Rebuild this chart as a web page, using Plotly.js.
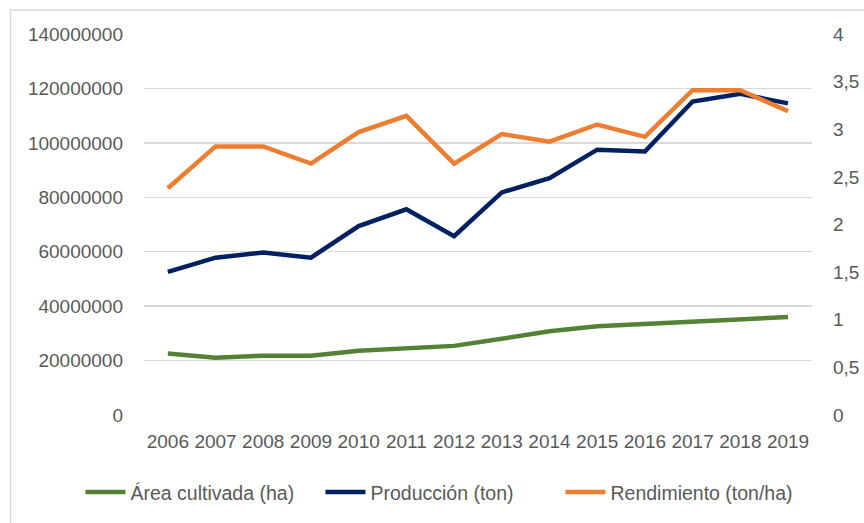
<!DOCTYPE html>
<html>
<head>
<meta charset="utf-8">
<script src="https://cdn.plot.ly/plotly-3.0.1.min.js"></script>
<style>
  html, body { margin: 0; padding: 0; background: #fff; }
  #chart { width: 864px; height: 523px; }
</style>
</head>
<body>
<div id="chart"></div>
<script>
// Years on the category axis
const years = ['2006', '2007', '2008', '2009', '2010', '2011', '2012',
               '2013', '2014', '2015', '2016', '2017', '2018', '2019'];

// Left axis series (ha / ton)
const area = [22.6e6, 21.0e6, 21.8e6, 21.8e6, 23.6e6, 24.4e6, 25.4e6,
              28.0e6, 30.8e6, 32.6e6, 33.4e6, 34.3e6, 35.2e6, 36.0e6];
const produccion = [52.6e6, 57.8e6, 59.7e6, 57.8e6, 69.4e6, 75.6e6, 65.7e6,
                    81.8e6, 87.0e6, 97.5e6, 96.8e6, 115.2e6, 118.0e6, 114.5e6];

// Right axis series (ton/ha)
const rendimiento = [2.38, 2.82, 2.82, 2.64, 2.97, 3.14, 2.64,
                     2.95, 2.87, 3.05, 2.92, 3.41, 3.41, 3.19];

// Tick labels
const leftTicks = [0, 20000000, 40000000, 60000000, 80000000, 100000000, 120000000, 140000000];
const rightTicks = [0, 0.5, 1, 1.5, 2, 2.5, 3, 3.5, 4];
const rightLabels = ['0', '0,5', '1', '1,5', '2', '2,5', '3', '3,5', '4'];

const font = {family: 'Liberation Sans, Arial, sans-serif', size: 19, color: '#595959'};
const legendFont = {family: 'Liberation Sans, Arial, sans-serif', size: 19.5, color: '#595959'};

const traces = [
    {
        x: years, y: area, name: 'Área cultivada (ha)',
        mode: 'lines', line: {color: '#548235', width: 4.5}, yaxis: 'y'
    },
    {
        x: years, y: produccion, name: 'Producción (ton)',
        mode: 'lines', line: {color: '#002060', width: 4.5}, yaxis: 'y'
    },
    {
        x: years, y: rendimiento, name: 'Rendimiento (ton/ha)',
        mode: 'lines', line: {color: '#ED7D31', width: 4.5}, yaxis: 'y2'
    }
];

const layout = {
    width: 864,
    height: 523,
    margin: {l: 144, r: 14, t: 34, b: 107},
    paper_bgcolor: '#ffffff',
    plot_bgcolor: '#ffffff',
    font: font,
    showlegend: true,
    legend: {
        orientation: 'h', x: -0.09, xanchor: 'left', y: -0.2, yanchor: 'middle',
        font: legendFont, itemwidth: 40, traceorder: 'normal',
        entrywidth: 185, entrywidthmode: 'pixels'
    },
    xaxis: {
        type: 'category', domain: [0, 0.946], range: [-0.5, 13.5],
        showgrid: false, zeroline: false, showline: false,
        ticks: '', tickfont: font, ticklabelstandoff: 13
    },
    yaxis: {
        range: [0, 140000000], tickvals: leftTicks, tickformat: 'd',
        showgrid: true, gridcolor: '#d9d9d9', gridwidth: 1.5,
        zeroline: false, showline: false, ticks: '',
        tickfont: font, ticklabelstandoff: 20
    },
    yaxis2: {
        range: [0, 4], overlaying: 'y', side: 'right', anchor: 'x',
        tickvals: rightTicks, ticktext: rightLabels,
        showgrid: false, zeroline: false, showline: false, ticks: '',
        tickfont: font, ticklabelstandoff: 20
    },
    shapes: [{
        type: 'rect', xref: 'paper', yref: 'paper',
        x0: -0.189, x1: 1.2, y0: -0.4, y1: 1.063,
        line: {color: '#d9d9d9', width: 1.5}, layer: 'below'
    }]
};

Plotly.newPlot('chart', traces, layout, {displayModeBar: false, staticPlot: true});
</script>
</body>
</html>
